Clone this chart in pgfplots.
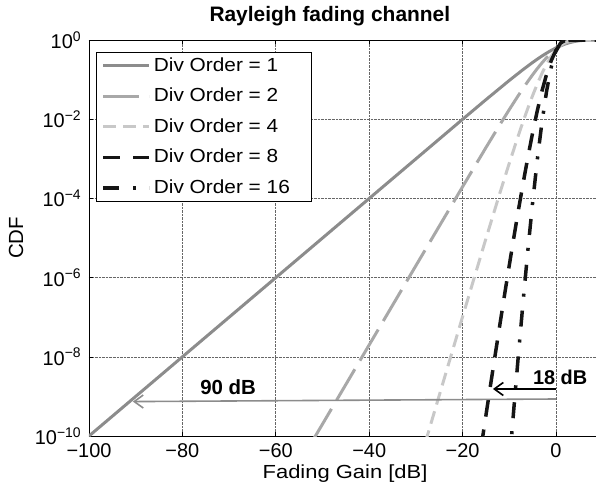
\documentclass[border=0pt]{standalone}
\usepackage{fontspec}
\setmainfont{Liberation Sans}
\newfontfamily\legfont[FakeStretch=1.1]{Liberation Sans}
\newfontfamily\labfont[FakeStretch=1.16]{Liberation Sans}
\usepackage{pgfplots}
\pgfplotsset{compat=1.18}
\usetikzlibrary{arrows.meta}
\definecolor{cone}{HTML}{8C8C8C}
\definecolor{ctwo}{HTML}{A8A8A8}
\definecolor{cfour}{HTML}{C8C8C8}
\definecolor{ceight}{HTML}{151515}
\begin{document}
\fontsize{20}{23}\selectfont
\begin{tikzpicture}
\begin{axis}[
  scale only axis, width=507bp, height=396bp,
  xmin=-100, xmax=8.57,
  ymode=log, ymin=1e-10, ymax=1,
  axis x line*=box, axis y line*=left,
  axis line style={black, line width=0.8bp},
  xtick={-100,-80,-60,-40,-20,0},
  xticklabels={−100,−80,−60,−40,−20,0},
  ytick={1e-10,1e-8,1e-6,1e-4,1e-2,1},
  yticklabels={10\textsuperscript{−10},10\textsuperscript{−8},10\textsuperscript{−6},10\textsuperscript{−4},10\textsuperscript{−2},10\textsuperscript{0}},
  yminorticks=false,
  grid=major,
  grid style={densely dotted, black!60, line width=0.6bp},
  tick align=inside, major tick length=4bp,
  tick style={black, line width=0.6bp},
  tick label style={font=\fontsize{20}{23}\selectfont},
  xticklabel style={yshift=-1bp},
  yticklabel style={xshift=-1bp},
  xlabel={Fading Gain [dB]},
  xlabel style={at={(axis description cs:0.505,-0.108)}, anchor=base, font=\labfont\fontsize{19}{22}\selectfont},
  ylabel={CDF},
  ylabel style={at={(axis description cs:-0.144,0.5)}, anchor=center, font=\fontsize{20.5}{23}\selectfont},
  title={Rayleigh fading channel},
  title style={at={(axis description cs:0.475,1)}, anchor=base, yshift=13bp, font=\fontsize{21}{24}\selectfont\bfseries},
  legend style={at={(axis description cs:0.0138,0.9697)}, anchor=north west,
    draw=black, line width=0.8bp, fill=white,
    font=\legfont\fontsize{19}{22}\selectfont,
    inner xsep=5bp, inner ysep=4bp, row sep=11.5bp,
    nodes={inner xsep=3bp, inner ysep=0bp, text height=15bp, text depth=4bp}},
  legend cell align=left,
  legend image code/.code={\draw[#1] (0bp,0bp) -- (46bp,0bp);},
]
% Div order 1
\addplot[cone, line width=3bp] coordinates {
(-100,1e-10) (-20,9.95e-3) (-15,0.03113) (-10,0.0952) (-7,0.1809) (-5,0.2711) (-4,0.3283)
(-3,0.3942) (-2,0.468) (-1,0.548) (0,0.632) (1,0.716) (2,0.795) (3,0.864) (4,0.919)
(5,0.958) (6,0.981) (7,0.9933) (8.6,0.9993)};
\addlegendentry{Div Order = 1}
% Div order 2
\addplot[ctwo, line width=3bp, dash pattern=on 36bp off 10bp] coordinates {
(-52,8e-11) (-50,2e-10) (-40,2e-8) (-30,2e-6) (-20,1.97e-4) (-15,1.92e-3) (-12,7.33e-3)
(-10,0.01752) (-8,0.0408) (-7,0.0612) (-6,0.0909) (-5,0.1326) (-4,0.1898) (-3,0.265)
(-2,0.360) (-1,0.471) (0,0.594) (1,0.716) (2,0.825) (3,0.908) (4,0.960) (5,0.987)
(6,0.997) (7,0.9995) (8.6,1)};
\addlegendentry{Div Order = 2}
% Div order 4
\addplot[cfour, line width=3bp, dash pattern=on 13bp off 7bp] coordinates {
(-28,6.7e-11) (-25,1.056e-9) (-20,1.033e-7) (-15,9.64e-6) (-12,1.383e-4) (-10,7.76e-4)
(-8,4.08e-3) (-7,9.0e-3) (-6,0.01928) (-5,0.0397) (-4,0.0777) (-3,0.1435) (-2,0.248)
(-1,0.3925) (0,0.5665) (1,0.74) (2,0.877) (3,0.957) (4,0.990) (5,0.9986) (6,1) (8.6,1)};
\addlegendentry{Div Order = 4}
% Div order 8
\addplot[ceight, line width=3.5bp, dash pattern=on 17bp off 13bp] coordinates {
(-16,5.5e-11) (-15,3.33e-10) (-14,1.98e-9) (-13,1.159e-8) (-12,6.68e-8) (-11,3.76e-7)
(-10,2.05e-6) (-9,1.078e-5) (-8,5.41e-5) (-7,2.566e-4) (-6,1.13e-3) (-5,4.55e-3)
(-4,0.01641) (-3,0.05164) (-2,0.138) (-1,0.306) (0,0.547) (1,0.786) (2,0.936)
(3,0.9897) (4,0.99927) (5,1) (8.6,1)};
\addlegendentry{Div Order = 8}
% Div order 16
\addplot[ceight, line width=3.5bp, dash pattern=on 16bp off 14bp on 3bp off 13bp] coordinates {
(-10,1.96e-11) (-9.5,1.03e-10) (-9,5.31e-10) (-8,1.30e-8) (-7,2.81e-7) (-6,5.19e-6)
(-5,7.90e-5) (-4,9.45e-4) (-3,8.41e-3) (-2,0.0522) (-1,0.211) (0,0.533) (1,0.845)
(2,0.977) (3,0.9988) (4,1) (8.6,1)};
\addlegendentry{\makebox[150bp][l]{Div Order = 16}}
% annotations
\draw[black!45, line width=1.6bp, -{Straight Barb[length=9bp,width=13bp]}]
  (axis cs:0,8.6e-10) -- (axis cs:-90.6,7.4e-10);
\draw[black, line width=1.6bp, -{Straight Barb[length=9bp,width=13bp]}]
  (axis cs:0,1.54e-9) -- (axis cs:-13.5,1.54e-9);
\node[font=\fontsize{20.5}{23}\selectfont\bfseries] at (axis cs:-70.2,1.73e-9) {90 dB};
\node[font=\fontsize{20}{23}\selectfont\bfseries] at (axis cs:0.9,3.1e-9) {18 dB};
\end{axis}
\pgfresetboundingbox
\path[use as bounding box] (-89bp,-56bp) rectangle (507bp,436bp);
\end{tikzpicture}
\end{document}
